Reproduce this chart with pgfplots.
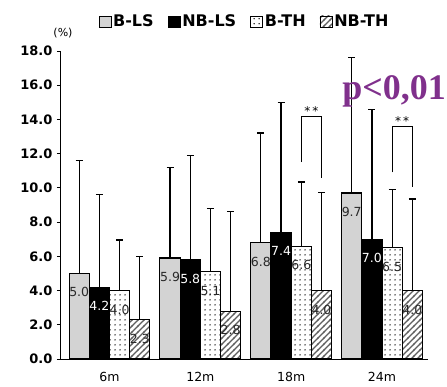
\documentclass[border=0pt]{standalone}
\usepackage{fontspec}
\setmainfont{DejaVu Sans}
\newfontfamily\serifbf{Liberation Serif}
\usepackage{pgfplots}
\pgfplotsset{compat=1.18}
\usetikzlibrary{patterns}
\definecolor{lsgray}{RGB}{211,211,211}
\definecolor{pcol}{RGB}{128,48,140}
\definecolor{hatchcol}{RGB}{95,95,95}
\definecolor{lblcol}{RGB}{40,40,40}
\pgfdeclarepatternformonly{mydots}{\pgfqpoint{0pt}{0pt}}{\pgfqpoint{4.5pt}{5pt}}{\pgfqpoint{4.5pt}{5pt}}{\pgfpathcircle{\pgfqpoint{2.25pt}{2.5pt}}{0.8pt}\pgfusepath{fill}}
\pgfdeclarepatternformonly{myhatch}{\pgfqpoint{-1pt}{-1pt}}{\pgfqpoint{7pt}{7pt}}{\pgfqpoint{6pt}{6pt}}{\pgfsetlinewidth{1.4pt}\pgfpathmoveto{\pgfqpoint{-1pt}{-1pt}}\pgfpathlineto{\pgfqpoint{7pt}{7pt}}\pgfusepath{stroke}}
\pgfplotsset{
  myerr/.style={error bars/.cd, y dir=plus, y explicit,
    error bar style={line width=1.2pt, black},
    error mark=-,
    error mark options={rotate=90, line width=1.3pt, mark size=3.5pt, black}},
  mylbl/.style={nodes near coords,
    every node near coord/.append style={font=\fontsize{12.5}{12.5}\selectfont, text=#1, anchor=center, yshift=-19pt}},
}
\begin{document}
\begin{tikzpicture}
\begin{axis}[
  scale only axis, width=367pt, height=308pt,
  xmin=-0.534, xmax=3.506, ymin=0, ymax=18,
  axis lines=left, axis line style={-, line width=1pt, black},
  xtick={0,1,2,3}, xticklabels={6m,12m,18m,24m},
  xtick style={draw=none},
  xticklabel style={font=\fontsize{12.5}{14}\selectfont, yshift=-6pt},
  ytick={0,2,...,18},
  yticklabel style={font=\bfseries\fontsize{13}{14}\selectfont, xshift=-1pt},
  /pgf/number format/assume math mode=true,
  /pgf/number format/fixed, /pgf/number format/fixed zerofill, /pgf/number format/precision=1,
  tick align=outside, major tick length=4pt, ytick style={line width=0.9pt, black},
  clip=false,
  legend columns=4,
  legend style={at={(0.5,1)}, anchor=center, yshift=30pt, draw=none, fill=none,
    font=\bfseries\fontsize{16}{18}\selectfont,
    /tikz/every even column/.append style={column sep=12pt},
    /tikz/every odd column/.append style={column sep=0pt}},
  legend image code/.code={\draw[#1, line width=0.6pt] (0pt,-6pt) rectangle (12pt,5pt);},
  every axis plot/.append style={line width=1.1pt},
]
\addplot[ybar, bar width=20.2pt, bar shift=0pt, fill=lsgray, draw=black,
  mylbl=lblcol, myerr]
  coordinates {(-0.3336,5.0) +- (0,6.6) (0.6664,5.9) +- (0,5.3) (1.6664,6.8) +- (0,6.4) (2.6664,9.7) +- (0,7.9)};
\addplot[ybar, bar width=20.2pt, bar shift=0pt, fill=black, draw=black,
  mylbl=white, myerr]
  coordinates {(-0.1112,4.2) +- (0,5.4) (0.8888,5.8) +- (0,6.1) (1.8888,7.4) +- (0,7.6) (2.8888,7.0) +- (0,7.6)};
\addplot[ybar, bar width=20.2pt, bar shift=0pt, fill=white, draw=black,
  postaction={pattern=mydots, pattern color=black},
  mylbl=lblcol, myerr]
  coordinates {(0.1112,4.0) +- (0,2.95) (1.1112,5.1) +- (0,3.7) (2.1112,6.6) +- (0,3.75) (3.1112,6.5) +- (0,3.4)};
\addplot[ybar, bar width=20.2pt, bar shift=0pt, fill=white, draw=black,
  postaction={pattern=myhatch, pattern color=hatchcol},
  mylbl=lblcol, myerr]
  coordinates {(0.3336,2.3) +- (0,3.7) (1.3336,2.8) +- (0,5.8) (2.3336,4.0) +- (0,5.75) (3.3336,4.0) +- (0,5.35)};
\addplot[forget plot, sharp plot, no marks, black, line width=1pt]
  coordinates {(2.1112,11.5) (2.1112,14.15) (2.3336,14.15) (2.3336,10.6)};
\addplot[forget plot, sharp plot, no marks, black, line width=1pt]
  coordinates {(3.1112,10.9) (3.1112,13.6) (3.3336,13.6) (3.3336,10.05)};
\legend{B-LS,NB-LS,B-TH,NB-TH}
\node[font=\fontsize{12}{12}\selectfont, anchor=south, inner sep=1pt] at (axis cs:2.2224,14.15) {*\,*};
\node[font=\fontsize{12}{12}\selectfont, anchor=south, inner sep=1pt] at (axis cs:3.2224,13.6) {*\,*};
\node[font=\fontsize{11}{12}\selectfont] at (rel axis cs:0,1) [yshift=18pt, xshift=2pt] {(\%)};
\node[anchor=base west, inner sep=0pt, text=pcol, font=\serifbf\bfseries\fontsize{36}{40}\selectfont] at (rel axis cs:0.766,0.841) {p<0,01};
\coordinate (ll) at (rel axis cs:0,0);
\end{axis}
\pgfresetboundingbox
\path (ll) ++(-61pt,-27pt) rectangle ++(447pt,386pt);
\end{tikzpicture}
\end{document}
